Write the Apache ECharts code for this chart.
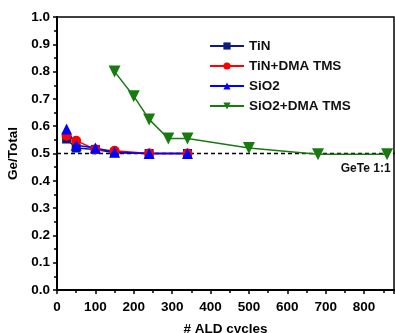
<!DOCTYPE html>
<html>
<head>
<meta charset="utf-8">
<script src="https://cdn.jsdelivr.net/npm/echarts@6/dist/echarts.min.js"></script>
<style>html,body{margin:0;padding:0;background:#fff}#c{width:395px;height:333px}</style>
</head>
<body>
<div id="c"></div>
<script>
// Ge fraction versus number of ALD cycles for four substrate treatments
const tinX = [25, 50, 100, 150, 240, 340];
const tinY = [0.553, 0.520, 0.515, 0.503, 0.500, 0.500];
const tinDmaX = [25, 50, 100, 150, 240, 340];
const tinDmaY = [0.565, 0.547, 0.515, 0.510, 0.500, 0.500];
const sio2X = [25, 50, 100, 150, 240, 340];
const sio2Y = [0.590, 0.530, 0.520, 0.505, 0.500, 0.500];
const sio2DmaX = [150, 200, 240, 290, 340, 500, 680, 860];
const sio2DmaY = [0.800, 0.710, 0.625, 0.555, 0.555, 0.520, 0.497, 0.497];
const stoichX = [0, 880];
const stoichY = [0.5, 0.5];
const seriesNames = ['TiN', 'TiN+DMA TMS', 'SiO2', 'SiO2+DMA TMS'];
const refLabel = 'GeTe 1:1';

const pair = (xs, ys) => xs.map((x, i) => [x, ys[i]]);
const font = 'Arial, "Liberation Sans", sans-serif';
const downTri = 'path://M0,0 L10,0 L5,9 Z';
const txt = { fontFamily: font, fontWeight: 'bold', fontSize: 13.5, color: '#000' };

const chart = echarts.init(document.getElementById('c'));
const lineSeries = (name, xs, ys, color, symbol, size) => ({
  name, type: 'line', data: pair(xs, ys), symbol, symbolSize: size,
  lineStyle: { color, width: 1.5 }, itemStyle: { color },
  z: 3
});
chart.setOption({
  animation: false,
  grid: {
    left: 57, top: 17, right: 1, bottom: 43, show: true, borderColor: '#000', borderWidth: 1.5,
    containLabel: false, outerBoundsMode: 'none'
  },
  legend: {
    data: seriesNames, orient: 'vertical', left: 204, top: 34, itemWidth: 34, itemHeight: 9, itemGap: 6,
    textStyle: { fontFamily: font, fontWeight: 'bold', fontSize: 13.5, color: '#111' }
  },
  xAxis: {
    type: 'value', min: 0, max: 878, interval: 100,
    name: '# ALD cycles', nameLocation: 'middle', nameGap: 32,
    nameTextStyle: txt,
    axisLine: { lineStyle: { color: '#000', width: 2 } },
    axisTick: { show: true, inside: false, length: 4, lineStyle: { color: '#000', width: 1.5 } },
    minorTick: { show: true, splitNumber: 2, length: 3, lineStyle: { color: '#000', width: 1.5 } },
    splitLine: { show: false },
    axisLabel: Object.assign({ margin: 10, showMaxLabel: false }, txt)
  },
  yAxis: {
    type: 'value', min: 0, max: 1, interval: 0.1,
    name: 'Ge/Total', nameLocation: 'middle', nameGap: 37, nameRotate: 90,
    nameTextStyle: txt,
    axisLine: { show: true, lineStyle: { color: '#000', width: 2 } },
    axisTick: { show: true, inside: false, length: 4, lineStyle: { color: '#000', width: 1.5 } },
    minorTick: { show: true, splitNumber: 2, length: 3, lineStyle: { color: '#000', width: 1.5 } },
    splitLine: { show: false },
    axisLabel: Object.assign({ margin: 7, formatter: v => v.toFixed(1) }, txt)
  },
  series: [
    {
      type: 'line', data: pair(stoichX, stoichY), symbol: 'none', silent: true,
      lineStyle: { color: '#000', width: 1.5, type: [4, 3] }, z: 2,
      endLabel: { show: true, formatter: refLabel, fontFamily: font, fontWeight: 'bold', fontSize: 12, color: '#111', offset: [-62, 15] }
    },
    lineSeries(seriesNames[0], tinX, tinY, '#0d1b7a', 'rect', 9),
    lineSeries(seriesNames[1], tinDmaX, tinDmaY, '#ff0000', 'circle', 10),
    lineSeries(seriesNames[2], sio2X, sio2Y, '#0000ff', 'triangle', 11),
    lineSeries(seriesNames[3], sio2DmaX, sio2DmaY, '#1a7a12', downTri, 12)
  ]
});
</script>
</body>
</html>
